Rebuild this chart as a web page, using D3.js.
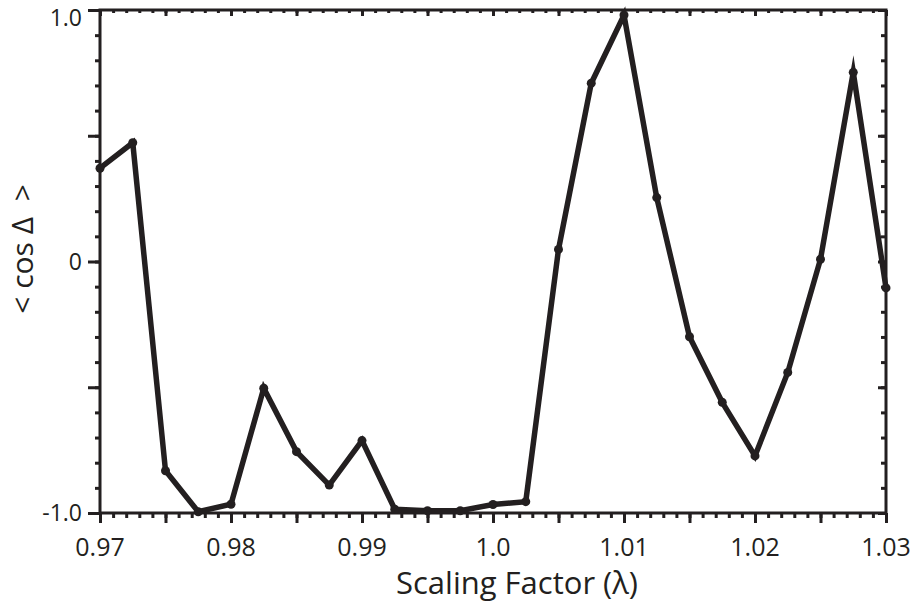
<!DOCTYPE html>
<html>
<head>
<meta charset="utf-8">
<script src="https://cdn.jsdelivr.net/npm/d3@7"></script>
<style>
  html, body { margin: 0; padding: 0; background: #fff; }
  svg { display: block; }
  text { font-family: 'Open Sans', sans-serif; fill: #231f20; }
</style>
</head>
<body>
<div id="chart"></div>
<script>
// Scaling factor (x) and measured <cos Delta> (y)
const lambda = [
  0.97, 0.9725, 0.975, 0.9775, 0.98, 0.9825, 0.985, 0.9875, 0.99, 0.9925,
  0.995, 0.9975, 1.0, 1.0025, 1.005, 1.0075, 1.01, 1.0125, 1.015, 1.0175,
  1.02, 1.0225, 1.025, 1.0275, 1.03
];
const cosDelta = [
  0.371, 0.472, -0.832, -0.995, -0.965, -0.504, -0.756, -0.889, -0.712, -0.985,
  -0.991, -0.991, -0.966, -0.955, 0.048, 0.709, 0.98, 0.254, -0.299, -0.56,
  -0.773, -0.441, 0.009, 0.752, -0.105
];

const xTickLabels = [0.97, 0.98, 0.99, 1.0, 1.01, 1.02, 1.03];
const xTickText = ['0.97', '0.98', '0.99', '1.0', '1.01', '1.02', '1.03'];
const yTickLabels = [-1, 0, 1];
const yTickText = ['-1.0', '0', '1.0'];

const width = 913, height = 607;
const margins = { top: 10, right: 27, bottom: 94, left: 100 };
const ink = '#231f20';

const svg = d3.select('#chart')
  .append('svg')
    .attr('width', width)
    .attr('height', height);

const x = d3.scaleLinear()
  .domain([0.97, 1.03])
  .range([margins.left, width - margins.right]);

const y = d3.scaleLinear()
  .domain([-1, 1])
  .range([height - margins.bottom, margins.top]);

// tick positions (minor/major), rounded to avoid float drift
const xMinor = d3.range(0, 61).map(i => +(0.97 + i * 0.001).toFixed(4));
const xMajor = d3.range(0, 13).map(i => +(0.97 + i * 0.005).toFixed(4));
const yMinor = d3.range(0, 21).map(i => +(-1 + i * 0.1).toFixed(2));
const yMajor = d3.range(0, 5).map(i => +(-1 + i * 0.5).toFixed(2));

function tickAxis(axisFn, scale, values, size, pos) {
  const g = svg.append('g')
    .attr('transform', pos)
    .call(axisFn(scale).tickValues(values).tickSize(size).tickFormat(''));
  g.select('.domain').remove();
  g.selectAll('line').attr('stroke', ink).attr('stroke-width', 3);
  return g;
}

const x0 = margins.left, x1 = width - margins.right;
const y0 = height - margins.bottom, y1 = margins.top;

// bottom: outward ticks
tickAxis(d3.axisBottom, x, xMinor, 5, `translate(0,${y0})`);
tickAxis(d3.axisBottom, x, xMajor, 10, `translate(0,${y0})`);
// top: inward ticks
tickAxis(d3.axisBottom, x, xMinor, 3, `translate(0,${y1})`);
tickAxis(d3.axisBottom, x, xMajor, 6, `translate(0,${y1})`);
// left: outward ticks
tickAxis(d3.axisLeft, y, yMinor, 5, `translate(${x0},0)`);
tickAxis(d3.axisLeft, y, yMajor, 12, `translate(${x0},0)`);
// right: inward ticks
tickAxis(d3.axisLeft, y, yMinor, 5, `translate(${x1},0)`);
tickAxis(d3.axisLeft, y, yMajor, 8, `translate(${x1},0)`);

// frame
svg.append('rect')
  .attr('x', x0)
  .attr('y', y1)
  .attr('width', x1 - x0)
  .attr('height', y0 - y1)
  .attr('fill', 'none')
  .attr('stroke', ink)
  .attr('stroke-width', 3);

// tick labels
svg.append('g')
  .selectAll('text')
  .data(xTickLabels)
  .enter()
  .append('text')
    .attr('x', d => x(d))
    .attr('y', y0 + 43)
    .attr('text-anchor', 'middle')
    .attr('font-size', '25px')
    .text((d, i) => xTickText[i]);

svg.append('g')
  .selectAll('text')
  .data(yTickLabels)
  .enter()
  .append('text')
    .attr('x', x0 - 18)
    .attr('y', d => d === 1 ? y(d) + 16 : y(d) + 8)
    .attr('text-anchor', 'end')
    .attr('font-size', '23px')
    .text((d, i) => yTickText[i]);

// axis titles
svg.append('text')
  .attr('x', 517)
  .attr('y', 594)
  .attr('text-anchor', 'middle')
  .attr('font-size', '31px')
  .text('Scaling Factor (\u03bb)');

svg.append('text')
  .attr('transform', 'translate(33, 249) rotate(-90)')
  .attr('text-anchor', 'middle')
  .attr('font-size', '30px')
  .style('white-space', 'pre')
  .text('< cos \u0394  >');

// data line and markers
const points = lambda.map((l, i) => ({ x: l, y: cosDelta[i] }));

const line = d3.line()
  .x(d => x(d.x))
  .y(d => y(d.y));

svg.append('path')
  .datum(points)
  .attr('d', line)
  .attr('fill', 'none')
  .attr('stroke', ink)
  .attr('stroke-width', 5.5)
  .attr('stroke-linejoin', 'miter')
  .attr('stroke-miterlimit', 8);

svg.append('g')
  .selectAll('circle')
  .data(points)
  .enter()
  .append('circle')
    .attr('cx', d => x(d.x))
    .attr('cy', d => y(d.y))
    .attr('r', 4.5)
    .attr('fill', ink);
</script>
</body>
</html>
